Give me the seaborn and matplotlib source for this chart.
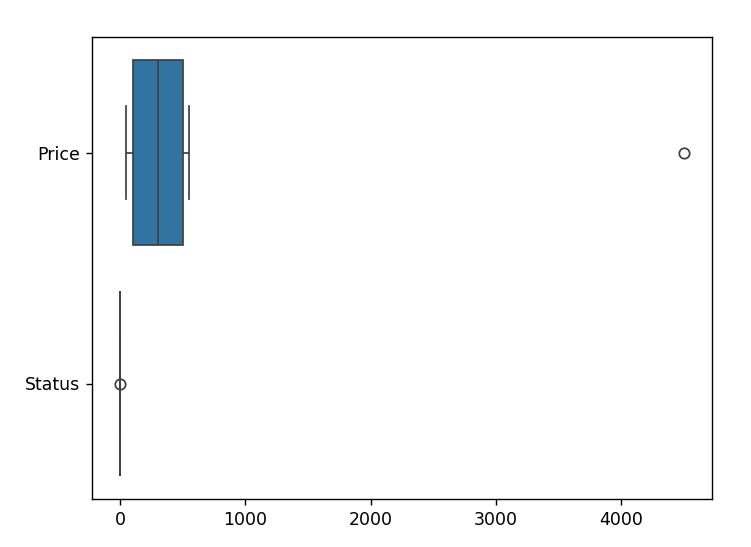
import numpy as np
import pandas as pd
import matplotlib
matplotlib.use("Agg")
import matplotlib.pyplot as plt
import seaborn as sns

# values
price = [50, 80, 100, 200, 300, 400, 500, 550, 4500]
status = [0, 0, 0, 0, 0, 0, 0, 0, 1]

df = pd.DataFrame({"Price": price, "Status": status})

DPI = 125
fig, ax = plt.subplots(figsize=(751 / DPI, 547 / DPI), dpi=DPI)
fig.subplots_adjust(left=92 / 751, right=712 / 751, top=1 - 37 / 547, bottom=1 - 499 / 547)

sns.boxplot(data=df, orient="h", ax=ax)

fig.savefig("out.png", dpi=DPI)
